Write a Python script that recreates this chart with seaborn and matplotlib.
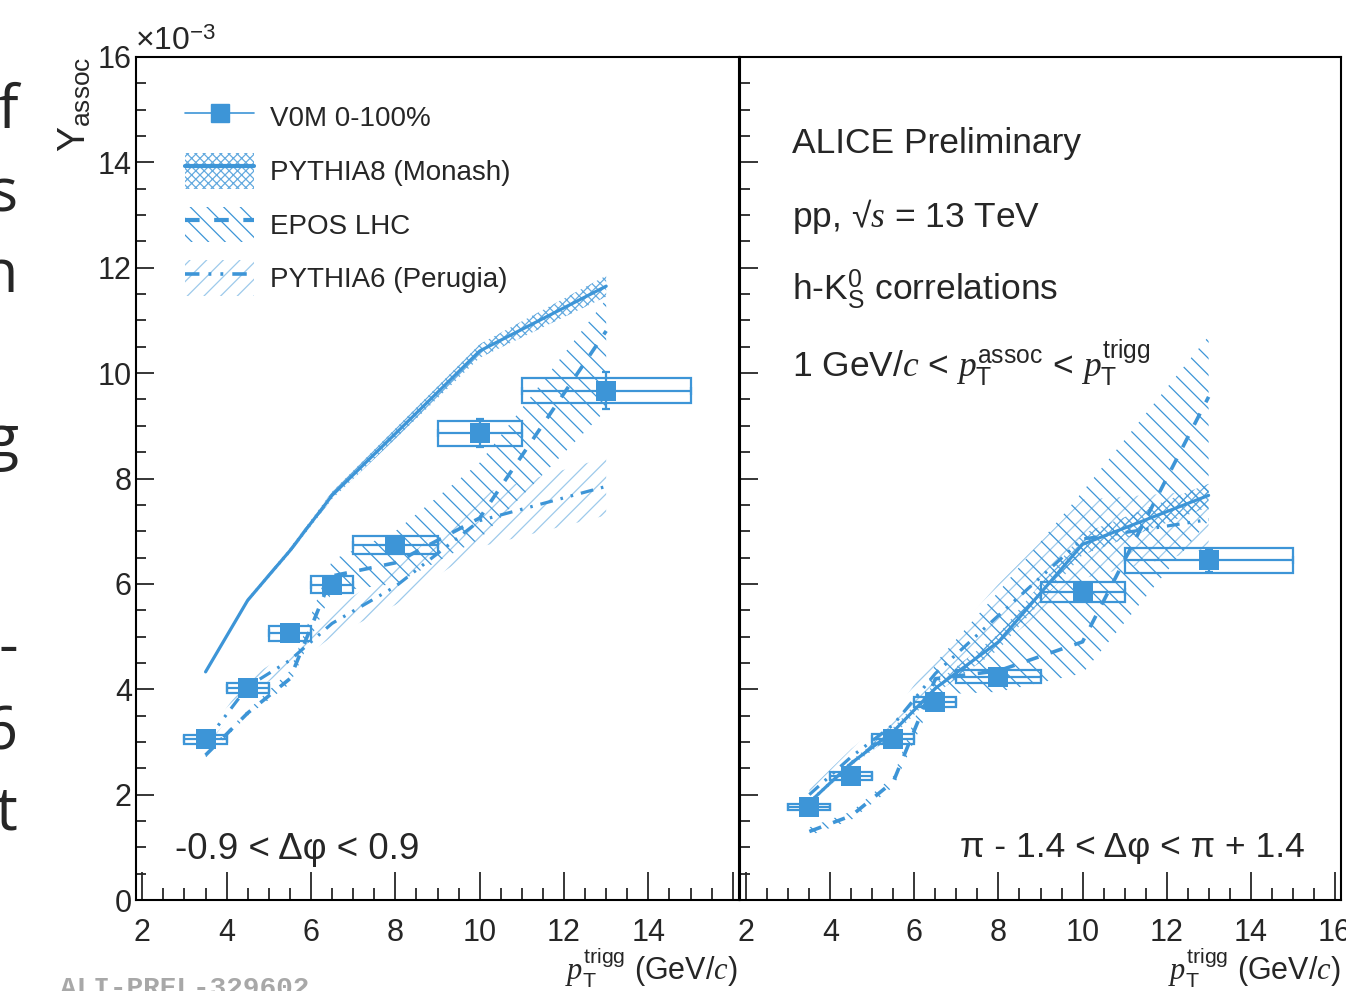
import numpy as np
import pandas as pd
import matplotlib
matplotlib.use('Agg')
import matplotlib.pyplot as plt
from matplotlib.lines import Line2D
from matplotlib.patches import Patch
from matplotlib.ticker import MultipleLocator
import seaborn as sns

# trigger pT bins (centre and half width)
pt_trig = [3.5, 4.5, 5.5, 6.5, 8.0, 10.0, 13.0]
pt_half = [0.5, 0.5, 0.5, 0.5, 1.0, 1.0, 2.0]

# near side, -0.9 < dphi < 0.9  (units of 1e-3)
near_y = [3.05, 4.02, 5.06, 5.98, 6.74, 8.86, 9.67]
near_stat = [0.05, 0.06, 0.07, 0.09, 0.14, 0.27, 0.36]
near_syst = [0.08, 0.10, 0.14, 0.16, 0.17, 0.24, 0.24]
near_py8 = [4.33, 5.69, 6.63, 7.68, 8.85, 10.42, 11.65]
near_py8_err = [0.03, 0.04, 0.05, 0.07, 0.10, 0.13, 0.20]
near_epos = [2.75, 3.55, 4.20, 6.15, 6.40, 7.25, 10.80]
near_epos_lo = [2.70, 3.50, 4.10, 5.85, 6.00, 6.85, 9.30]
near_epos_hi = [2.80, 3.60, 4.35, 6.45, 7.00, 8.30, 11.40]
near_py6 = [3.00, 4.05, 4.55, 5.25, 5.95, 7.20, 7.85]
near_py6_err = [0.10, 0.15, 0.15, 0.25, 0.35, 0.50, 0.55]

# away side, pi-1.4 < dphi < pi+1.4
far_y = [1.77, 2.35, 3.06, 3.76, 4.24, 5.84, 6.45]
far_stat = [0.03, 0.04, 0.05, 0.06, 0.08, 0.12, 0.22]
far_syst = [0.06, 0.07, 0.09, 0.10, 0.13, 0.19, 0.24]
far_py8 = [1.85, 2.60, 3.20, 4.02, 4.90, 6.75, 7.68]
far_py8_err = [0.04, 0.05, 0.08, 0.10, 0.15, 0.20, 0.22]
far_epos = [1.30, 1.60, 2.25, 4.20, 4.35, 4.90, 9.55]
far_epos_lo = [1.22, 1.52, 2.15, 3.90, 3.95, 4.30, 7.20]
far_epos_hi = [1.38, 1.68, 2.35, 4.50, 5.85, 7.75, 10.70]
far_py6 = [2.00, 2.72, 3.33, 4.30, 5.40, 6.85, 7.22]
far_py6_err = [0.10, 0.15, 0.20, 0.35, 0.60, 0.75, 0.55]

legend_labels = ['V0M 0-100%', 'PYTHIA8 (Monash)', 'EPOS LHC', 'PYTHIA6 (Perugia)']
x_ticks = [2, 4, 6, 8, 10, 12, 14, 16]
y_ticks = [0, 2, 4, 6, 8, 10, 12, 14, 16]

BLUE = '#3d95d7'
EPOS_DASH = (0, (3.5, 3.5))
PY6_DASH = (0, (4, 2.5, 0.8, 2.5, 0.8, 2.5))
PY6_HATCH = '//'
PY6_ALPHA = 0.5

sns.set_style('ticks')
plt.rcParams['font.family'] = ['Liberation Sans', 'DejaVu Sans']
plt.rcParams['mathtext.fontset'] = 'custom'
plt.rcParams['mathtext.rm'] = 'Liberation Sans'
plt.rcParams['mathtext.it'] = 'Liberation Serif:italic'
plt.rcParams['mathtext.bf'] = 'Liberation Sans:bold'
plt.rcParams['hatch.linewidth'] = 0.9

W, H = 1346, 991
fig = plt.figure(figsize=(W / 100, H / 100), dpi=100)
ax1 = fig.add_axes([136 / W, 1 - 900 / H, (739 - 136) / W, (900 - 57) / H])
ax2 = fig.add_axes([740 / W, 1 - 900 / H, (1341 - 740) / W, (900 - 57) / H])


def draw_panel(ax, y, stat, syst, py8, py8_err, epos, epos_lo, epos_hi, py6, py6_err):
    x = np.array(pt_trig)
    # model bands
    ax.fill_between(x, np.array(py6) - py6_err, np.array(py6) + py6_err,
                    facecolor='none', edgecolor=BLUE, hatch=PY6_HATCH, linewidth=0,
                    alpha=PY6_ALPHA)
    ax.fill_between(x, epos_lo, epos_hi, facecolor='none', edgecolor=BLUE,
                    hatch='\\\\', linewidth=0)
    ax.fill_between(x, np.array(py8) - py8_err, np.array(py8) + py8_err,
                    facecolor='none', edgecolor=BLUE, hatch='xxxx', linewidth=0, alpha=0.8)
    # model curves
    sns.lineplot(x=x, y=py8, ax=ax, color=BLUE, lw=2.3)
    sns.lineplot(x=x, y=epos, ax=ax, color=BLUE, lw=2.6, linestyle=EPOS_DASH)
    sns.lineplot(x=x, y=py6, ax=ax, color=BLUE, lw=2.3, linestyle=PY6_DASH)
    # data: systematic boxes, stat errors, markers
    ax.bar(x, 2 * np.array(syst), bottom=np.array(y) - syst, width=2 * np.array(pt_half),
           fill=False, edgecolor=BLUE, linewidth=1.6, zorder=5)
    ax.errorbar(x, y, xerr=pt_half, yerr=stat, fmt='none', ecolor=BLUE,
                elinewidth=1.6, capsize=3, capthick=1.6, zorder=5)
    sns.scatterplot(x=x, y=y, ax=ax, marker='s', s=190, color=BLUE,
                    edgecolor=BLUE, linewidth=0, zorder=6)

    ax.set_xlim(1.85, 16.15)
    ax.set_ylim(0, 16)
    ax.xaxis.set_major_locator(MultipleLocator(2))
    ax.xaxis.set_minor_locator(MultipleLocator(0.5))
    ax.yaxis.set_major_locator(MultipleLocator(2))
    ax.yaxis.set_minor_locator(MultipleLocator(0.5))
    ax.tick_params(axis='x', which='major', direction='in', length=20, width=1.3,
                   pad=13, labelsize=22, top=False)
    ax.tick_params(axis='x', which='minor', direction='in', length=9, width=1.3, top=False)
    ax.tick_params(axis='y', which='major', direction='in', length=13, width=1.3,
                   pad=3, labelsize=22, right=False)
    ax.tick_params(axis='y', which='minor', direction='in', length=7, width=1.3, right=False)
    for sp in ax.spines.values():
        sp.set_visible(True)
        sp.set_linewidth(1.5)
        sp.set_color('black')
    ax.set_xlabel('')
    ax.set_ylabel('')


draw_panel(ax1, near_y, near_stat, near_syst, near_py8, near_py8_err,
           near_epos, near_epos_lo, near_epos_hi, near_py6, near_py6_err)
draw_panel(ax2, far_y, far_stat, far_syst, far_py8, far_py8_err,
           far_epos, far_epos_lo, far_epos_hi, far_py6, far_py6_err)

ax1.set_xticks(x_ticks, labels=[str(t) for t in x_ticks[:-1]] + [''])
ax1.set_yticks(y_ticks, labels=[str(t) for t in y_ticks])
ax2.set_xticks(x_ticks, labels=[str(t) for t in x_ticks])
ax2.tick_params(axis='y', labelleft=False)

# legend
handles = [
    Line2D([], [], color=BLUE, lw=1.2, marker='s', ms=13),
    (Patch(facecolor='none', edgecolor=BLUE, hatch='xxxx', lw=0, alpha=0.8),
     Line2D([], [], color=BLUE, lw=3)),
    (Patch(facecolor='none', edgecolor=BLUE, hatch='\\\\', lw=0),
     Line2D([], [], color=BLUE, lw=3, linestyle=EPOS_DASH)),
    (Patch(facecolor='none', edgecolor=BLUE, hatch=PY6_HATCH, lw=0, alpha=PY6_ALPHA),
     Line2D([], [], color=BLUE, lw=2.6, linestyle=PY6_DASH)),
]
ax1.legend(handles, legend_labels, loc='upper left', bbox_to_anchor=(0.081, 0.95),
           frameon=False, fontsize=20, handlelength=2.5, handleheight=1.6,
           labelspacing=0.65, handletextpad=0.55, borderpad=0, borderaxespad=0)

# panel annotations
ax1.text(0.065, 0.06, '-0.9 < Δφ < 0.9', transform=ax1.transAxes, fontsize=26.5,
         ha='left', va='center')
ax2.text(0.94, 0.062, 'π - 1.4 < Δφ < π + 1.4', transform=ax2.transAxes, fontsize=25.5,
         ha='right', va='center')
info = ['ALICE Preliminary',
        r'pp, √$s$ = 13 TeV',
        r'h-K$^{0}_{\mathrm{S}}$ correlations',
        r'1 GeV/$c$ < $p_{\mathrm{T}}^{\mathrm{assoc}}$ < $p_{\mathrm{T}}^{\mathrm{trigg}}$']
info_y = [143, 216, 290, 363]
for s, yc in zip(info, info_y):
    ax2.text(792 / W, 1 - yc / H, s, transform=fig.transFigure,
             fontsize=25.5, ha='left', va='center')

# axis titles
fig.text(75 / W, 1 - 57 / H, r'$\mathrm{Y}_{\mathrm{assoc}}$', rotation=90,
         fontsize=27, ha='center', va='top')
fig.text(135 / W, 1 - 50 / H, r'$\times10^{-3}$', fontsize=23, ha='left', va='baseline')
xlab = r'$p_{\mathrm{T}}^{\mathrm{trigg}}$ (GeV/$c$)'
fig.text(738 / W, 1 - 980 / H, xlab, fontsize=22, ha='right', va='baseline')
fig.text(1341 / W, 1 - 980 / H, xlab, fontsize=22, ha='right', va='baseline')

fig.text(60 / W, 1 - 996 / H, 'ALI-PREL-329602', fontsize=20, color='#a8a8a8',
         family='Liberation Mono', weight='bold', ha='left', va='baseline')

# fragments of the slide text cut off at the left edge
slide_bits = [('f', 128), ('s', 212), ('n', 292), ('g', 458), ('-', 665), ('6', 750), ('t', 830)]
for ch, yb in slide_bits:
    fig.text(18 / W, 1 - yb / H, ch, fontsize=44, family='Open Sans',
             ha='right', va='baseline')

fig.savefig('out.png', dpi=100)
